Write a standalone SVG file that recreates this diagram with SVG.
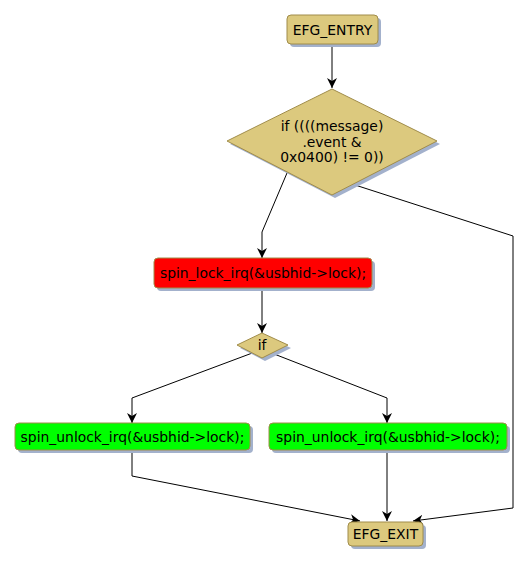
<svg xmlns="http://www.w3.org/2000/svg" width="529" height="565" viewBox="0 0 529 565">
<defs>
<marker id="ah" viewBox="0 0 10 10" refX="10" refY="5" markerWidth="10" markerHeight="10" markerUnits="userSpaceOnUse" orient="auto">
<path d="M0,0 L10,5 L0,10 L3,5 Z" fill="#000"/>
</marker>
</defs>
<style>
.sh{fill:#a3b1cc}
.tan{fill:#dcc97e;stroke:#a08c4a;stroke-width:1}
.red{fill:#ff0000;stroke:#a08c4a;stroke-width:1}
.grn{fill:#00ff00;stroke:#a08c4a;stroke-width:1}
text{font-family:"DejaVu Sans",sans-serif;font-size:13.9px;text-anchor:middle;fill:#000}
.c{fill:none;stroke:#000;stroke-width:1;marker-end:url(#ah)}
</style>
<rect width="529" height="565" fill="#fff"/>
<g id="connectors">
<path class="c" d="M332,45 L332,88"/>
<path class="c" d="M287,173 L262,232 L262,258"/>
<path class="c" d="M352,184 L513,236 L513,508 L413,521"/>
<path class="c" d="M262,288 L262,333"/>
<path class="c" d="M255,352 L132,398 L132,423"/>
<path class="c" d="M269,352 L387,398 L387,423"/>
<path class="c" d="M132,450 L132,476 L360,521"/>
<path class="c" d="M387,450 L387,521"/>
</g>
<g id="efg_entry">
<rect class="sh" x="290" y="18" width="91" height="29" rx="4"/>
<rect class="tan" x="287" y="15" width="91" height="29" rx="4"/>
<text x="332.5" y="35">EFG_ENTRY</text>
</g>
<g id="cond1">
<polygon class="sh" points="335,92 440,144 335,198 230,144"/>
<polygon class="tan" points="332,89 437,141 332,195 227,141"/>
<text x="332" y="131">if ((((message)</text>
<text x="332" y="147">.event &amp;</text>
<text x="332" y="162">0x0400) != 0))</text>
</g>
<g id="lock">
<rect class="sh" x="157" y="261" width="218" height="30" rx="4"/>
<rect class="red" x="154" y="258" width="218" height="30" rx="4"/>
<text x="263" y="278">spin_lock_irq(&amp;usbhid-&gt;lock);</text>
</g>
<g id="cond2">
<polygon class="sh" points="265,336 291,348 265,361 240,348"/>
<polygon class="tan" points="262,333 288,345 262,358 237,345"/>
<text x="262" y="350">if</text>
</g>
<g id="unlock1">
<rect class="sh" x="18" y="426" width="235" height="27" rx="4"/>
<rect class="grn" x="15" y="423" width="235" height="27" rx="4"/>
<text x="132.5" y="441.5">spin_unlock_irq(&amp;usbhid-&gt;lock);</text>
</g>
<g id="unlock2">
<rect class="sh" x="272" y="426" width="238" height="27" rx="4"/>
<rect class="grn" x="269" y="423" width="238" height="27" rx="4"/>
<text x="388" y="441.5">spin_unlock_irq(&amp;usbhid-&gt;lock);</text>
</g>
<g id="efg_exit">
<rect class="sh" x="351" y="525" width="75" height="24" rx="4"/>
<rect class="tan" x="348" y="522" width="75" height="24" rx="4"/>
<text x="385.5" y="539">EFG_EXIT</text>
</g>
</svg>
